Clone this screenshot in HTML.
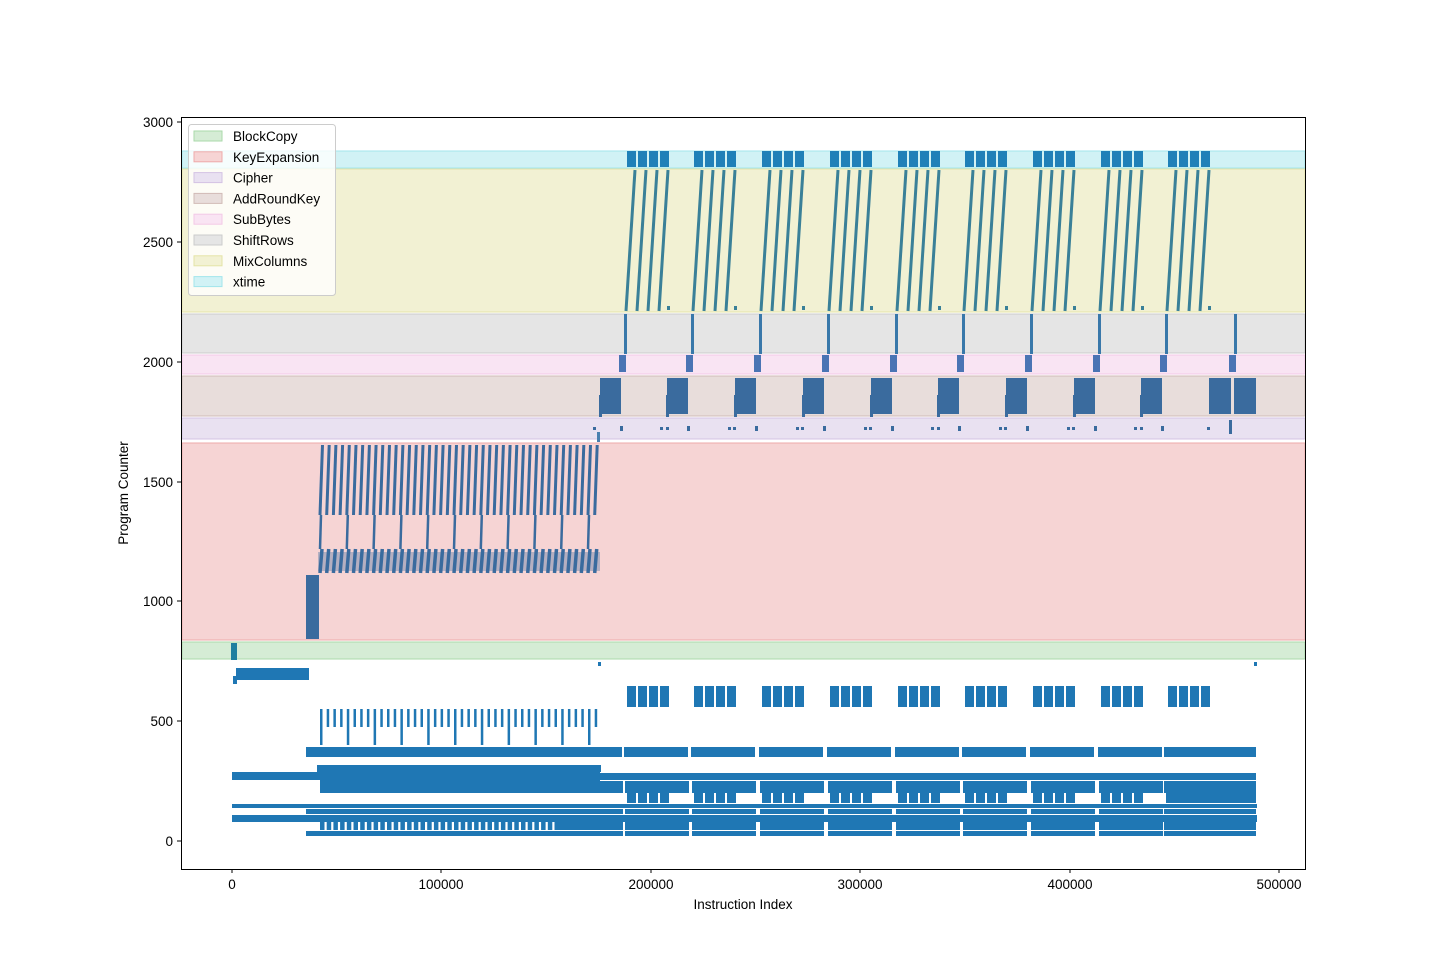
<!DOCTYPE html>
<html><head><meta charset="utf-8"><style>
body{margin:0;background:#fff}
svg{display:block}
text{font-family:"Liberation Sans","DejaVu Sans",sans-serif;font-size:13.5px;fill:#000}
</style></head><body>
<svg id="s" width="1451" height="976" xmlns="http://www.w3.org/2000/svg">
<rect x="0" y="0" width="1451" height="976" fill="#fff"/>
<g id="bands"></g>
<g id="pts"></g>
<rect x="181.5" y="117.5" width="1124" height="752" fill="none" stroke="#000" stroke-width="1"/>
<g id="ticks"></g>
<text x="743" y="909" text-anchor="middle">Instruction Index</text>
<text transform="translate(128,493) rotate(-90)" text-anchor="middle">Program Counter</text>
<g id="legend"></g>
</svg>
<script>
const NS="http://www.w3.org/2000/svg";
function el(p,t,a){const e=document.createElementNS(NS,t);for(const k in a)e.setAttribute(k,a[k]);document.getElementById(p).appendChild(e);return e;}
function r(p,x,y,w,h,f,extra){return el(p,'rect',Object.assign({x:x,y:y,width:w,height:h,fill:f},extra||{}));}
function ln(x1,y1,x2,y2,c,w){return el('pts','line',{x1:x1,y1:y1,x2:x2,y2:y2,stroke:c,'stroke-width':w});}
const bands=[
["BlockCopy",642,659,"#d5ecd5","#aadaaa"],
["KeyExpansion",443,640,"#f6d4d4","#eeaaaa"],
["Cipher",418,439,"#e9e1f1","#d4c2e4"],
["AddRoundKey",376,416,"#e8dddb","#d1bbb7"],
["SubBytes",355,374,"#f9e4f3","#f3c9e7"],
["ShiftRows",314,353,"#e5e5e5","#cccccc"],
["MixColumns",169,312,"#f2f1d3","#e4e4a7"],
["xtime",151,168,"#d1f2f5","#a2e5ec"]];
bands.forEach(b=>r('bands',182,b[1],1123,b[2]-b[1],b[3],{stroke:b[4],'stroke-width':1}));
const B="#1f77b4",D="#3a6b9e",T="#3a8098";
// continuous lines
r('pts',232,772,368,8,B);
r('pts',600,773,656,7,B);
r('pts',232,804,1025,4,B);
r('pts',232,815,1025,7,B);
r('pts',306,831,294,5,B);
r('pts',306,747,294,10,B);
r('pts',317,765,284,7,B);
r('pts',306,809,294,5,B);
r('pts',320,780,280,13,B);
r('pts',236,668,73,12,B);
r('pts',233,676,4,8,B);
r('pts',231,643,6,17,"#1f7f9f");
// key expansion
r('pts',306,575,13,64,D);
r('pts',318,552,282,19,D,{opacity:0.35});
let idx=0;
for(let x=320;x<598;x+=6.7,idx++){
  ln(x+2.5,445,x,515,D,3);
  ln(x+2,549,x,573,D,3.5);
  if(idx%4==0){ln(x+1,515,x,549,D,2.5);}
  r('pts',x,709,2.5,18,B);
  if(idx%4==0)r('pts',x,727,2.5,18,B);
  r('pts',x,822,4.5,8,B);
}
const rs=[625,692,760,828,896,963,1031,1099,1166];
function seg(s){
  r('pts',s-1,747,64,10,B);
  r('pts',s,781,64,12,B);
  r('pts',s,809,64,5,B);
  r('pts',s,822,64,8,B);
  r('pts',s,831,64,5,B);
}
seg(559);
rs.forEach((s,i)=>{
  seg(s);
  for(let k=0;k<4;k++){
    r('pts',s+2+k*11,686,9,21,B);
    r('pts',s+2+k*11,793,9,10,B);
  }
  r('pts',s-25,378,21,36,D);
  r('pts',s-26,395,3,22,D);
  r('pts',s-5,426,3,5,D);r('pts',s+41,427,3,3,D);r('pts',s-32,427,3,3,D);
  r('pts',s-6,355,7,17,"#4a74b4");
  r('pts',s-1,314,3,40,"#3978aa");
  for(let k=0;k<4;k++){
    const x0=s+k*11;
    ln(x0+1,311,x0+10,170,T,3);
    r('pts',x0+2,151,9,16,"#1f80b8");
  }
  r('pts',s+42,306,3,4,T);
});
// final
r('pts',1164,747,92,10,B);r('pts',1164,781,92,12,B);r('pts',1164,809,92,5,B);r('pts',1164,822,92,8,B);r('pts',1164,831,92,5,B);r('pts',1166,793,90,10,B);
r('pts',1209,378,22,36,D);r('pts',1234,378,22,36,D);
r('pts',1229,355,7,17,"#4a74b4");r('pts',1234,314,3,40,"#3978aa");r('pts',1229,420,3,14,D);
r('pts',597,432,3,10,"#4a80b0");r('pts',1254,662,3,4,B);r('pts',598,662,3,4,B);
// ticks
const yt=[[0,841],[500,721],[1000,601],[1500,482],[2000,362],[2500,242],[3000,122]];
yt.forEach(t=>{el('ticks','line',{x1:177,x2:181,y1:t[1],y2:t[1],stroke:"#000"});
 const tx=el('ticks','text',{x:173,y:t[1]+5,'text-anchor':'end'});tx.textContent=t[0];});
const xt=[[0,232],[100000,441],[200000,651],[300000,860],[400000,1070],[500000,1279]];
xt.forEach(t=>{el('ticks','line',{x1:t[1],x2:t[1],y1:869,y2:873,stroke:"#000"});
 const tx=el('ticks','text',{x:t[1],y:889,'text-anchor':'middle'});tx.textContent=t[0];});
// legend
r('legend',188.5,124.5,147,171,"rgba(255,255,255,0.8)",{stroke:"#ccc",rx:3});
const ord=["BlockCopy","KeyExpansion","Cipher","AddRoundKey","SubBytes","ShiftRows","MixColumns","xtime"];
ord.forEach((n,i)=>{const b=bands.find(q=>q[0]==n);const y=131+i*20.8;
 r('legend',194,y,28,10,b[3],{stroke:b[4]});
 const tx=el('legend','text',{x:233,y:y+10});tx.textContent=n;});
</script>
</body></html>
